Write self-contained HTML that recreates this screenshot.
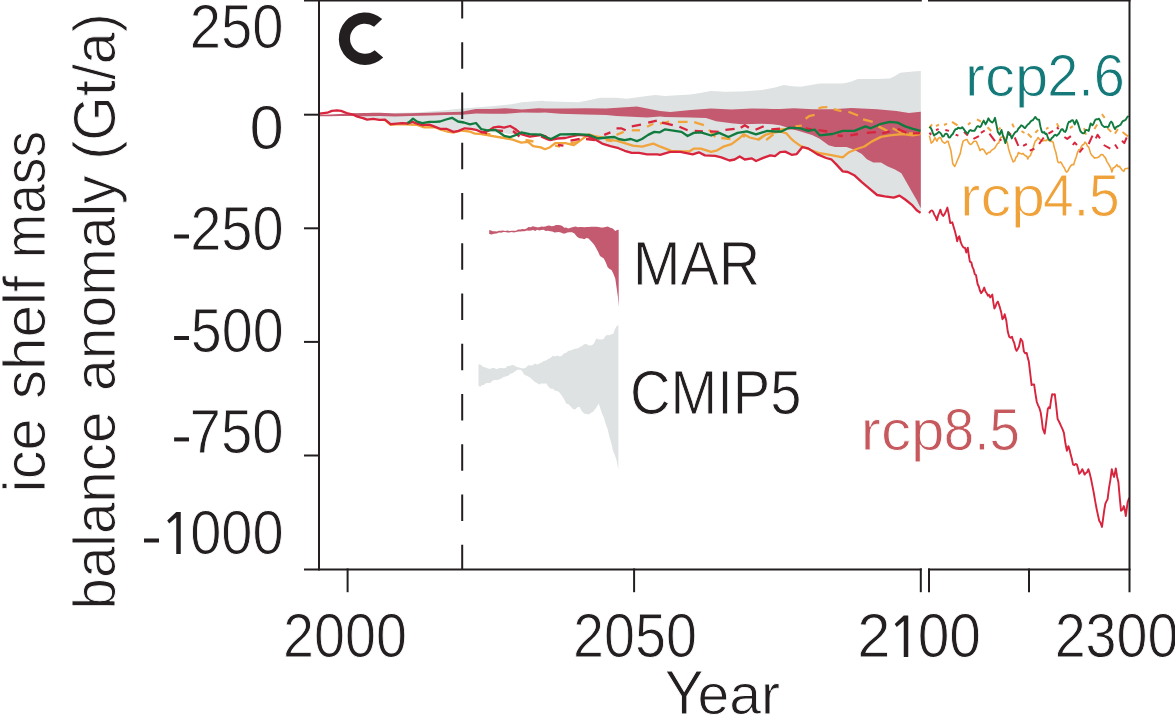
<!DOCTYPE html>
<html><head><meta charset="utf-8"><title>Ice shelf mass balance anomaly</title>
<style>
html,body{margin:0;padding:0;background:#fff;}
body{width:1175px;height:715px;overflow:hidden;}
svg{display:block;filter:blur(0.4px);}
text{font-family:"Liberation Sans",sans-serif;}
.ax{stroke:#231f20;stroke-width:2;fill:none;stroke-linecap:butt;}
.ln{fill:none;stroke-linejoin:round;stroke-linecap:butt;}
.t{fill:#231f20;}
</style></head><body>
<svg width="1175" height="715" viewBox="0 0 1175 715" role="img" aria-label="Ice shelf mass balance anomaly chart, panel C">
<rect width="1175" height="715" fill="#fff"/>
<polygon points="362.0,114.5 372.0,112.6 385.0,113.2 400.0,112.8 415.0,112.6 430.0,111.5 445.0,110.2 462.0,108.4 475.0,107.6 491.3,106.3 511.7,104.3 522.0,102.3 542.4,100.7 545.0,101.2 560.3,101.7 578.7,102.3 590.0,100.0 600.2,97.7 616.5,97.7 626.7,98.7 647.1,96.1 655.3,95.1 665.0,96.1 690.6,94.6 700.0,93.0 711.0,91.0 725.0,91.8 741.7,91.5 762.0,90.0 775.0,87.4 783.9,84.9 792.0,86.2 800.5,86.8 819.7,83.6 842.7,83.6 850.0,82.0 858.0,79.1 877.1,79.1 889.9,78.5 895.0,76.0 900.1,72.8 912.9,71.5 920.5,70.9 920.8,70.9 920.8,212.9 920.5,213.5 916.7,210.9 911.6,205.2 905.2,200.1 899.5,196.2 893.7,198.2 884.8,196.9 877.1,195.6 869.5,189.2 861.8,182.8 854.2,175.8 847.8,172.6 842.7,172.0 836.3,165.0 831.2,159.9 826.1,158.6 817.1,154.7 808.2,149.0 802.4,147.7 796.7,154.7 791.6,155.4 785.2,152.2 780.1,152.8 775.0,156.7 770.3,156.0 763.2,158.5 756.0,161.6 751.9,159.0 744.8,160.1 739.7,157.0 734.6,160.1 729.5,161.1 721.3,158.0 715.2,156.5 704.9,156.0 698.8,152.9 692.7,155.0 680.4,152.4 670.2,152.4 660.0,155.5 657.4,155.0 647.1,155.0 639.0,153.4 631.8,153.4 624.7,151.4 618.5,148.8 610.4,146.8 602.2,144.2 596.1,140.6 591.0,138.1 585.9,136.1 578.7,135.5 571.6,137.1 565.4,138.6 557.3,139.1 550.1,140.6 545.0,136.6 540.8,135.6 529.7,137.3 521.2,134.9 515.2,134.4 510.1,133.9 504.1,133.3 499.0,132.8 493.9,132.3 488.2,131.8 482.0,133.0 476.0,130.4 470.9,129.4 464.7,128.9 458.6,131.5 453.5,132.5 446.3,129.4 440.2,129.4 435.1,127.4 429.4,125.3 422.3,125.8 417.1,124.3 412.5,122.5 408.0,124.1 401.8,123.8 396.7,124.3 390.6,124.8 385.0,120.2 379.4,120.4 373.2,119.5 367.1,120.2 363.0,118.7" fill="#dee2e2"/>
<polygon points="319.6,114.7 330.0,114.6 340.0,113.9 350.0,113.2 365.0,113.1 380.0,112.8 395.0,113.5 410.0,113.2 430.0,112.7 445.0,112.2 462.0,111.7 468.0,110.6 476.0,108.9 491.3,108.9 505.6,108.2 521.9,109.4 538.3,108.2 545.0,108.4 565.0,108.4 585.9,108.2 606.0,108.4 621.6,107.4 636.9,106.5 647.1,108.4 660.0,110.9 670.2,112.0 690.6,109.9 711.0,108.4 731.5,109.4 752.0,108.4 772.4,108.9 780.0,108.9 794.1,108.3 813.3,109.2 832.4,109.2 851.6,107.9 877.1,109.2 896.3,111.1 909.0,113.0 920.5,111.7 920.8,111.7 920.8,207.8 920.5,207.8 916.7,200.1 911.6,191.2 906.5,182.2 901.4,173.3 895.0,169.5 887.3,166.3 881.0,162.4 873.3,162.4 866.9,159.3 861.8,154.1 854.2,149.7 846.5,147.1 835.0,147.1 828.6,145.2 819.7,138.8 812.0,135.0 800.5,131.5 787.8,127.7 780.0,125.2 772.4,124.2 762.0,123.7 741.7,124.2 731.5,123.2 716.2,121.2 706.0,118.1 690.6,117.4 665.0,117.1 660.0,116.4 647.1,117.4 631.8,116.8 616.5,116.0 606.3,115.0 585.9,114.5 560.3,113.7 545.0,112.5 538.3,112.7 521.9,112.5 505.6,113.8 491.3,113.7 476.0,113.5 462.0,114.8 445.0,115.0 430.0,115.5 410.0,116.0 395.0,116.5 380.0,116.0 365.0,116.2 350.0,116.0 340.0,116.0 330.0,116.2 319.6,116.2" fill="#c35a6f"/>
<polygon points="489.2,230.1 491.0,230.6 492.8,231.3 494.8,231.2 496.9,231.6 498.9,230.8 501.0,230.8 503.0,230.6 505.1,230.9 507.3,230.4 509.4,231.0 511.6,230.8 513.8,230.7 516.0,230.7 518.1,229.5 520.3,229.5 522.5,229.0 524.7,229.3 526.6,228.6 528.5,227.1 530.6,227.2 532.8,226.2 534.9,226.7 537.0,227.3 539.2,227.2 541.3,226.5 543.3,226.7 545.4,226.5 547.4,225.8 549.5,225.6 551.5,226.2 553.7,226.0 556.0,225.1 558.2,225.0 560.4,225.2 562.3,226.1 564.3,227.8 566.2,227.4 568.1,228.4 570.6,227.7 573.2,227.1 575.7,226.5 577.8,227.2 580.0,226.9 582.1,227.1 584.4,227.2 586.6,226.9 588.9,227.0 591.1,226.7 593.6,226.8 596.2,226.7 598.7,227.1 601.0,227.6 603.2,227.5 605.5,227.1 607.7,226.5 610.2,227.7 612.8,228.4 615.3,231.0 617.0,230.1 618.7,229.7 618.7,307.0 617.9,296.7 615.3,278.8 613.4,273.7 611.5,269.9 609.6,268.9 607.7,267.3 605.8,262.4 603.8,258.4 601.9,257.3 600.0,255.9 598.1,251.8 596.2,248.2 594.2,244.8 592.3,242.4 590.4,240.4 588.5,238.6 586.4,238.1 584.2,239.2 582.1,238.6 579.5,238.3 577.0,236.7 574.5,233.5 572.0,232.3 569.4,232.2 567.3,232.6 565.1,233.6 563.0,233.5 560.9,232.5 558.7,232.0 556.6,232.2 554.5,232.4 552.3,231.5 550.2,231.3 548.0,230.8 545.8,231.0 543.5,229.8 541.3,230.1 539.3,230.6 537.2,229.7 535.2,231.0 533.1,230.0 531.1,230.6 529.0,230.7 526.8,230.4 524.7,231.3 522.6,231.3 520.4,231.6 518.3,231.6 516.1,232.1 513.8,232.5 511.6,232.0 509.4,232.6 507.3,232.4 505.3,231.9 503.2,232.1 501.2,232.8 499.1,232.6 496.6,233.4 494.0,233.8 491.5,234.4 489.2,233.9" fill="#c35a6f"/>
<polygon points="478.5,364.2 480.9,364.8 483.3,366.9 485.7,367.6 487.9,368.4 490.2,369.1 492.4,367.8 494.7,368.2 496.9,369.2 499.1,368.1 501.4,367.9 503.6,368.3 505.6,368.1 507.5,365.9 509.4,366.1 511.4,365.3 513.3,365.1 515.1,365.9 517.0,366.9 519.2,367.4 521.5,368.3 523.7,368.5 526.0,367.4 528.2,365.3 530.5,365.4 532.7,365.3 534.9,363.6 537.1,364.4 539.4,363.4 541.6,362.5 543.8,360.9 546.0,360.4 548.3,358.9 550.5,358.1 552.8,355.7 555.0,356.6 557.3,355.6 559.5,356.4 561.8,355.8 564.0,353.6 566.2,352.8 568.5,350.8 570.7,350.4 573.0,349.5 575.2,348.8 577.4,348.6 579.6,347.3 581.9,345.9 584.1,344.3 586.4,344.1 588.3,345.2 590.1,345.5 592.0,345.2 594.2,343.0 596.4,338.5 598.3,339.3 600.1,339.4 602.0,339.6 603.9,338.7 605.7,335.7 607.6,335.1 609.5,335.2 611.3,334.2 613.2,334.0 614.9,329.3 616.6,326.2 618.4,325.1 618.4,469.4 616.6,460.4 614.9,455.0 613.2,451.5 611.3,443.3 609.5,436.9 607.6,429.1 605.7,424.1 603.9,417.8 602.0,413.5 598.7,403.4 597.0,406.6 595.3,409.0 593.1,411.8 590.8,413.0 588.6,414.6 586.4,413.9 584.1,413.5 581.9,411.3 579.6,406.7 577.4,407.2 575.1,409.4 572.9,409.0 570.7,406.4 568.4,404.3 566.2,403.4 564.0,399.1 561.7,395.6 559.5,392.4 557.3,391.1 555.1,390.7 552.8,388.8 550.6,388.8 548.4,386.4 546.1,383.2 543.9,383.7 541.6,383.2 539.4,384.4 537.2,383.2 534.9,382.1 532.7,379.9 530.4,377.8 528.2,376.6 525.9,375.4 524.0,374.5 522.2,371.0 520.3,369.8 517.5,369.7 514.8,371.4 512.5,373.3 510.3,373.7 508.1,375.7 505.8,376.5 503.6,376.9 501.4,378.6 499.1,379.6 496.9,379.9 494.7,380.0 492.4,380.7 490.2,382.9 487.9,382.9 485.7,383.2 483.8,385.0 482.0,384.9 480.1,387.1 478.5,385.5" fill="#dee2e2"/>
<path class="ax" d="M462.2 -8 V569.4" stroke-dasharray="26.5 23.75"/>
<path class="ln" d="M385.0 120.2 L390.6 124.8 L400.0 124.2 L410.0 124.5 L417.0 124.8 L424.3 127.3 L435.0 127.0 L440.0 129.5 L447.0 131.5 L454.0 132.5 L462.0 130.5 L470.0 131.6 L475.1 133.7 L482.0 134.1 L491.3 135.8 L504.1 138.0 L512.7 139.7 L521.2 142.7 L528.0 141.8 L533.1 146.1 L540.8 147.4 L545.0 149.2 L550.1 147.2 L555.2 143.1 L565.4 143.1 L573.6 145.2 L580.8 140.1 L588.9 134.4 L596.1 136.5 L602.2 137.5 L610.4 140.1 L616.5 140.6 L624.7 143.1 L632.8 145.7 L642.0 146.7 L653.3 143.6 L660.4 146.7 L671.2 150.8 L680.0 151.5 L689.6 151.3 L693.7 148.7 L700.9 148.7 L711.1 151.8 L717.2 150.3 L723.3 146.7 L731.5 144.1 L739.7 138.0 L743.8 134.4 L749.9 137.5 L758.1 139.5 L765.2 134.9 L772.4 132.9 L780.0 131.5 L786.5 133.4 L791.6 139.2 L794.1 141.4 L800.5 145.9 L808.2 149.0 L818.4 152.9 L829.9 154.8 L842.7 157.3 L849.0 152.2 L856.7 149.0 L864.4 146.5 L872.0 141.4 L881.0 136.9 L889.9 135.3 L902.7 134.0 L912.9 135.3 L920.5 134.0" stroke="#f1a33c" stroke-width="2.3"/>
<path class="ln" d="M482.0 134.0 L490.5 134.2" stroke="#f1a33c" stroke-width="2.3"/>
<path class="ln" d="M525.5 140.0 L533.5 141.5" stroke="#f1a33c" stroke-width="2.3"/>
<path class="ln" d="M555.0 145.7 L560.0 146.5" stroke="#f1a33c" stroke-width="2.3"/>
<path class="ln" d="M570.5 143.1 L577.7 142.1" stroke="#f1a33c" stroke-width="2.3"/>
<path class="ln" d="M606.0 140.0 L612.0 141.0" stroke="#f1a33c" stroke-width="2.3"/>
<path class="ln" d="M616.5 134.9 L623.7 131.9" stroke="#f1a33c" stroke-width="2.3"/>
<path class="ln" d="M631.8 130.3 L640.0 130.3" stroke="#f1a33c" stroke-width="2.3"/>
<path class="ln" d="M647.1 126.8 L653.3 123.7" stroke="#f1a33c" stroke-width="2.3"/>
<path class="ln" d="M660.0 123.7 L669.2 121.7" stroke="#f1a33c" stroke-width="2.3"/>
<path class="ln" d="M677.9 121.9 L687.6 121.9" stroke="#f1a33c" stroke-width="2.3"/>
<path class="ln" d="M694.2 122.2 L703.9 125.2" stroke="#f1a33c" stroke-width="2.3"/>
<path class="ln" d="M709.0 129.8 L715.2 137.0" stroke="#f1a33c" stroke-width="2.3"/>
<path class="ln" d="M721.3 138.0 L730.5 139.0" stroke="#f1a33c" stroke-width="2.3"/>
<path class="ln" d="M741.7 135.0 L744.8 137.0" stroke="#f1a33c" stroke-width="2.3"/>
<path class="ln" d="M758.1 140.0 L766.2 134.4" stroke="#f1a33c" stroke-width="2.3"/>
<path class="ln" d="M766.2 140.0 L773.4 134.4" stroke="#f1a33c" stroke-width="2.3"/>
<path class="ln" d="M777.0 129.8 L786.5 128.9" stroke="#f1a33c" stroke-width="2.3"/>
<path class="ln" d="M795.4 126.4 L801.8 125.7" stroke="#f1a33c" stroke-width="2.3"/>
<path class="ln" d="M805.6 118.7 L809.0 116.2 L814.6 114.9" stroke="#f1a33c" stroke-width="2.3"/>
<path class="ln" d="M818.4 108.5 L822.0 107.3 L827.3 107.2" stroke="#f1a33c" stroke-width="2.3"/>
<path class="ln" d="M833.7 109.2 L841.4 111.1" stroke="#f1a33c" stroke-width="2.3"/>
<path class="ln" d="M848.4 111.7 L858.0 115.5" stroke="#f1a33c" stroke-width="2.3"/>
<path class="ln" d="M863.1 119.4 L872.7 121.9" stroke="#f1a33c" stroke-width="2.3"/>
<path class="ln" d="M878.4 126.4 L887.3 130.9" stroke="#f1a33c" stroke-width="2.3"/>
<path class="ln" d="M892.5 128.3 L901.4 132.8" stroke="#f1a33c" stroke-width="2.3"/>
<path class="ln" d="M909.0 133.4 L920.5 133.4" stroke="#f1a33c" stroke-width="2.3"/>
<path class="ln" d="M319.6 113.7 L327.3 112.7 L331.9 110.9 L337.0 110.4 L341.0 110.9 L346.7 113.0 L352.8 114.5 L357.4 116.6 L363.0 118.1 L367.1 119.6 L373.2 118.9 L379.4 119.8 L385.0 119.6 L390.6 124.2 L396.7 123.7 L401.8 123.2 L408.0 123.5 L412.5 121.9 L417.1 123.7 L422.3 125.2 L429.4 124.7 L435.1 126.8 L440.2 128.8 L446.3 128.8 L453.5 131.9 L458.6 130.9 L464.7 128.3 L470.9 128.8 L476.0 129.8 L482.0 132.4 L488.2 130.9 L493.9 127.3 L499.0 126.6 L504.1 127.7 L510.1 126.0 L515.2 129.0 L521.2 134.1 L529.7 136.7 L540.8 135.0 L545.0 136.0 L550.1 140.0 L557.3 138.5 L565.4 138.0 L571.6 136.5 L578.7 134.9 L585.9 135.5 L591.0 137.5 L596.1 140.0 L602.2 143.6 L610.4 146.2 L618.5 148.2 L624.7 150.8 L631.8 152.8 L639.0 152.8 L647.1 154.4 L657.4 154.4 L660.0 154.9 L670.2 151.8 L680.4 151.8 L692.7 154.4 L698.8 152.3 L704.9 155.4 L715.2 155.9 L721.3 157.4 L729.5 160.5 L734.6 159.5 L739.7 156.4 L744.8 159.5 L751.9 158.4 L756.0 161.0 L763.2 157.9 L770.3 155.4 L775.0 156.1 L780.1 152.2 L785.2 151.6 L791.6 154.8 L796.7 154.1 L802.4 147.1 L808.2 148.4 L817.1 154.1 L826.1 158.0 L831.2 159.3 L836.3 164.4 L842.7 171.4 L847.8 172.0 L854.2 175.2 L861.8 182.2 L869.5 188.6 L877.1 195.0 L884.8 196.3 L893.7 197.6 L899.5 195.6 L905.2 199.5 L911.6 204.6 L916.7 210.3 L920.5 212.9" stroke="#d8243c" stroke-width="2.3"/>
<path class="ln" d="M481.0 131.5 L487.0 133.5" stroke="#d8243c" stroke-width="2.3"/>
<path class="ln" d="M496.0 130.5 L503.0 131.0" stroke="#d8243c" stroke-width="2.3"/>
<path class="ln" d="M513.0 131.0 L519.5 136.5" stroke="#d8243c" stroke-width="2.3"/>
<path class="ln" d="M541.0 136.5 L549.0 140.0" stroke="#d8243c" stroke-width="2.3"/>
<path class="ln" d="M558.0 145.0 L563.4 145.7" stroke="#d8243c" stroke-width="2.3"/>
<path class="ln" d="M570.5 140.6 L579.7 139.0" stroke="#d8243c" stroke-width="2.3"/>
<path class="ln" d="M586.0 139.0 L595.0 140.0" stroke="#d8243c" stroke-width="2.3"/>
<path class="ln" d="M604.2 134.9 L610.4 132.4" stroke="#d8243c" stroke-width="2.3"/>
<path class="ln" d="M616.5 128.3 L621.0 128.3 L625.7 130.3" stroke="#d8243c" stroke-width="2.3"/>
<path class="ln" d="M631.8 126.3 L641.0 124.7" stroke="#d8243c" stroke-width="2.3"/>
<path class="ln" d="M648.2 122.7 L656.8 120.6" stroke="#d8243c" stroke-width="2.3"/>
<path class="ln" d="M662.0 122.7 L672.8 125.2" stroke="#d8243c" stroke-width="2.3"/>
<path class="ln" d="M679.4 126.8 L687.6 130.3" stroke="#d8243c" stroke-width="2.3"/>
<path class="ln" d="M694.7 130.9 L702.9 131.4" stroke="#d8243c" stroke-width="2.3"/>
<path class="ln" d="M710.0 131.4 L718.7 131.9" stroke="#d8243c" stroke-width="2.3"/>
<path class="ln" d="M725.4 129.8 L734.6 128.8" stroke="#d8243c" stroke-width="2.3"/>
<path class="ln" d="M740.7 127.8 L744.8 125.2 L748.9 127.8" stroke="#d8243c" stroke-width="2.3"/>
<path class="ln" d="M755.5 129.8 L763.7 126.3" stroke="#d8243c" stroke-width="2.3"/>
<path class="ln" d="M771.3 129.3 L780.0 128.6" stroke="#d8243c" stroke-width="2.3"/>
<path class="ln" d="M788.0 128.3 L796.0 128.0" stroke="#d8243c" stroke-width="2.3"/>
<path class="ln" d="M805.6 128.3 L812.0 129.6" stroke="#d8243c" stroke-width="2.3"/>
<path class="ln" d="M818.4 130.2 L827.3 131.5" stroke="#d8243c" stroke-width="2.3"/>
<path class="ln" d="M837.6 135.3 L842.7 136.0" stroke="#d8243c" stroke-width="2.3"/>
<path class="ln" d="M850.3 135.3 L858.0 134.0" stroke="#d8243c" stroke-width="2.3"/>
<path class="ln" d="M866.9 132.8 L875.9 132.1" stroke="#d8243c" stroke-width="2.3"/>
<path class="ln" d="M882.2 133.4 L889.9 131.5" stroke="#d8243c" stroke-width="2.3"/>
<path class="ln" d="M897.6 128.9 L906.5 132.8" stroke="#d8243c" stroke-width="2.3"/>
<path class="ln" d="M912.9 133.4 L920.0 133.2" stroke="#d8243c" stroke-width="2.3"/>
<path class="ln" d="M407.5 123.0 L410.0 121.4 L413.0 118.6 L417.1 121.7 L422.3 123.2 L429.4 121.9 L435.0 121.9 L440.0 121.5 L446.0 119.5 L452.0 117.8 L458.0 121.5 L464.0 122.5 L470.0 124.3 L476.0 123.0 L481.1 129.0 L487.1 130.3 L495.6 129.9 L504.1 135.8 L510.1 137.1 L516.1 135.0 L521.2 132.4 L529.7 134.1 L540.8 134.6 L546.8 137.5 L551.1 139.0 L560.3 134.4 L575.6 134.1 L588.9 134.9 L598.1 138.5 L606.3 137.5 L614.5 137.0 L618.5 139.0 L624.7 140.1 L630.8 139.0 L636.9 141.1 L642.0 139.0 L648.2 134.9 L654.3 131.9 L659.4 132.4 L665.1 129.3 L681.5 131.9 L687.6 136.0 L693.7 132.9 L700.9 132.4 L711.1 135.5 L719.2 132.9 L728.4 137.0 L737.6 132.9 L746.8 131.4 L756.0 134.4 L767.3 130.9 L775.0 131.5 L781.4 131.5 L789.0 127.7 L800.5 128.3 L808.2 130.9 L814.6 129.6 L819.7 135.3 L832.4 134.0 L842.7 130.9 L854.2 130.9 L865.6 126.4 L870.7 128.3 L881.0 123.8 L889.9 121.9 L897.6 122.6 L905.2 126.4 L912.9 128.9 L920.5 130.9" stroke="#117a3e" stroke-width="2.3"/>
<path class="ln" d="M929.4 135.6 L931.2 143.1 L932.5 142.2 L933.7 140.4 L935.0 137.5 L936.9 141.2 L938.3 138.4 L939.7 137.5 L940.9 138.0 L942.0 141.0 L943.2 142.2 L944.4 143.1 L945.6 142.8 L946.9 141.4 L948.1 141.2 L949.5 146.1 L950.9 150.6 L952.8 163.7 L954.7 166.5 L956.1 163.5 L957.5 160.0 L958.9 156.9 L960.3 153.4 L961.7 146.5 L963.1 141.2 L964.4 140.4 L965.6 139.8 L966.9 139.4 L968.3 142.2 L969.7 144.0 L970.9 144.4 L972.0 143.6 L973.2 142.0 L974.4 141.2 L976.2 141.2 L977.5 144.2 L978.7 147.0 L980.0 150.6 L981.2 149.3 L982.5 149.0 L983.7 149.7 L985.1 152.0 L986.5 154.4 L987.7 153.1 L988.9 152.2 L990.0 152.4 L991.2 150.6 L992.5 149.7 L993.7 148.9 L995.0 147.8 L996.2 145.7 L997.5 143.6 L998.7 143.1 L1000.6 137.5 L1001.8 137.1 L1003.1 136.7 L1004.3 137.5 L1005.8 139.9 L1007.2 142.2 L1008.6 148.9 L1010.0 153.4 L1011.6 158.0 L1013.2 161.9 L1014.7 160.9 L1015.9 157.4 L1017.2 156.2 L1018.4 152.5 L1019.6 153.4 L1020.8 153.5 L1021.9 154.1 L1023.1 153.4 L1024.3 154.9 L1025.6 155.9 L1026.8 156.2 L1027.8 159.0 L1029.1 156.5 L1030.3 155.7 L1031.6 152.5 L1032.8 149.7 L1034.1 144.2 L1035.3 141.2 L1036.7 139.9 L1038.1 137.5 L1039.4 139.2 L1040.6 139.9 L1041.9 141.2 L1043.3 140.8 L1044.7 140.3 L1046.1 140.8 L1047.5 139.4 L1048.9 140.1 L1050.3 141.5 L1051.7 141.2 L1053.1 142.2 L1054.5 148.2 L1055.9 152.5 L1057.8 161.9 L1059.2 162.8 L1060.6 161.9 L1061.9 163.8 L1063.1 166.1 L1064.4 168.0 L1065.6 171.0 L1066.8 172.1 L1068.2 170.4 L1069.5 167.7 L1070.9 165.6 L1072.3 164.5 L1073.7 164.7 L1075.0 160.2 L1076.2 157.0 L1077.5 152.5 L1078.7 149.9 L1080.0 149.7 L1081.2 146.9 L1082.5 144.8 L1083.7 144.7 L1085.0 142.2 L1086.2 143.3 L1087.5 146.3 L1088.7 146.9 L1090.6 153.4 L1091.9 155.4 L1093.1 156.5 L1094.4 158.1 L1095.6 157.8 L1096.9 157.8 L1098.1 157.2 L1099.4 156.5 L1100.6 154.9 L1101.9 154.4 L1103.1 155.0 L1104.4 156.9 L1105.6 158.1 L1106.9 161.6 L1108.1 163.4 L1109.4 165.6 L1110.7 167.9 L1111.9 172.1 L1113.1 168.0 L1114.4 167.6 L1115.6 166.3 L1116.9 164.7 L1118.1 166.7 L1119.4 166.2 L1120.6 168.0 L1122.2 170.2 L1123.8 171.3 L1124.9 168.9 L1126.0 168.5 L1127.3 168.5 L1128.6 167.9" stroke="#f1a33c" stroke-width="1.6"/>
<path class="ln" d="M929.4 128.0 L932.0 124.4" stroke="#f1a33c" stroke-width="2"/>
<path class="ln" d="M936.0 126.0 L939.0 124.6" stroke="#f1a33c" stroke-width="2"/>
<path class="ln" d="M944.0 125.0 L947.0 123.6" stroke="#f1a33c" stroke-width="2"/>
<path class="ln" d="M952.0 121.8 L957.5 125.3" stroke="#f1a33c" stroke-width="2"/>
<path class="ln" d="M968.0 124.8 L970.5 122.6" stroke="#f1a33c" stroke-width="2"/>
<path class="ln" d="M977.0 119.4 L981.0 121.6" stroke="#f1a33c" stroke-width="2"/>
<path class="ln" d="M987.5 127.2 L991.2 131.0" stroke="#f1a33c" stroke-width="2"/>
<path class="ln" d="M998.5 129.5 L1000.5 127.5" stroke="#f1a33c" stroke-width="2"/>
<path class="ln" d="M1012.2 123.6 L1013.9 127.4" stroke="#f1a33c" stroke-width="2"/>
<path class="ln" d="M1021.5 131.2 L1024.5 133.0" stroke="#f1a33c" stroke-width="2"/>
<path class="ln" d="M1027.8 133.7 L1031.6 137.5" stroke="#f1a33c" stroke-width="2"/>
<path class="ln" d="M1035.3 132.8 L1038.1 130.0" stroke="#f1a33c" stroke-width="2"/>
<path class="ln" d="M1046.0 128.8 L1048.5 127.6" stroke="#f1a33c" stroke-width="2"/>
<path class="ln" d="M1056.9 123.4 L1058.7 127.2" stroke="#f1a33c" stroke-width="2"/>
<path class="ln" d="M1070.0 128.1 L1072.8 126.2" stroke="#f1a33c" stroke-width="2"/>
<path class="ln" d="M1084.0 128.1 L1085.9 134.7" stroke="#f1a33c" stroke-width="2"/>
<path class="ln" d="M1094.4 129.1 L1097.2 124.4" stroke="#f1a33c" stroke-width="2"/>
<path class="ln" d="M1101.9 114.1 L1104.7 117.8" stroke="#f1a33c" stroke-width="2"/>
<path class="ln" d="M1107.5 128.1 L1111.2 131.9" stroke="#f1a33c" stroke-width="2"/>
<path class="ln" d="M1115.0 133.7 L1117.8 129.1" stroke="#f1a33c" stroke-width="2"/>
<path class="ln" d="M1122.5 131.9 L1128.1 136.6" stroke="#f1a33c" stroke-width="2"/>
<path class="ln" d="M929.4 132.8 L931.2 134.7" stroke="#d8243c" stroke-width="2"/>
<path class="ln" d="M936.0 130.0 L938.7 129.1" stroke="#d8243c" stroke-width="2"/>
<path class="ln" d="M945.3 130.0 L949.0 130.9" stroke="#d8243c" stroke-width="2"/>
<path class="ln" d="M955.6 134.7 L958.4 135.6" stroke="#d8243c" stroke-width="2"/>
<path class="ln" d="M964.0 131.9 L967.8 135.6" stroke="#d8243c" stroke-width="2"/>
<path class="ln" d="M973.4 138.9 L979.0 136.1" stroke="#d8243c" stroke-width="2"/>
<path class="ln" d="M980.9 132.8 L984.7 130.5" stroke="#d8243c" stroke-width="2"/>
<path class="ln" d="M989.4 133.7 L995.0 141.2" stroke="#d8243c" stroke-width="2"/>
<path class="ln" d="M999.7 140.3 L1001.5 139.4" stroke="#d8243c" stroke-width="2"/>
<path class="ln" d="M1008.1 131.9 L1010.9 134.7" stroke="#d8243c" stroke-width="2"/>
<path class="ln" d="M1014.7 137.5 L1018.4 145.9" stroke="#d8243c" stroke-width="2"/>
<path class="ln" d="M1023.1 145.9 L1026.8 144.0" stroke="#d8243c" stroke-width="2"/>
<path class="ln" d="M1029.7 150.6 L1034.4 148.7" stroke="#d8243c" stroke-width="2"/>
<path class="ln" d="M1039.1 144.0 L1043.7 137.5" stroke="#d8243c" stroke-width="2"/>
<path class="ln" d="M1048.4 133.7 L1053.1 130.9" stroke="#d8243c" stroke-width="2"/>
<path class="ln" d="M1056.9 127.2 L1058.7 129.1" stroke="#d8243c" stroke-width="2"/>
<path class="ln" d="M1064.4 137.0 L1067.2 138.9 L1070.9 136.1" stroke="#d8243c" stroke-width="2"/>
<path class="ln" d="M1072.8 145.0 L1074.7 142.6 L1077.0 145.0" stroke="#d8243c" stroke-width="2"/>
<path class="ln" d="M1079.4 152.5 L1083.1 147.8" stroke="#d8243c" stroke-width="2"/>
<path class="ln" d="M1088.7 144.0 L1092.5 135.6" stroke="#d8243c" stroke-width="2"/>
<path class="ln" d="M1095.8 138.4 L1097.6 134.7 L1100.0 138.4" stroke="#d8243c" stroke-width="2"/>
<path class="ln" d="M1103.7 145.0 L1110.3 148.7" stroke="#d8243c" stroke-width="2"/>
<path class="ln" d="M1115.0 144.5 L1117.8 148.7" stroke="#d8243c" stroke-width="2"/>
<path class="ln" d="M1122.0 140.8 L1124.3 143.1 L1126.7 137.5" stroke="#d8243c" stroke-width="2"/>
<path class="ln" d="M929.4 128.1 L930.3 127.2 L931.6 129.4 L932.8 132.9 L934.1 135.6 L935.2 134.4 L936.4 134.0 L937.6 133.1 L938.7 131.9 L940.0 132.5 L941.2 134.0 L942.5 136.6 L943.7 136.4 L945.0 134.1 L946.2 133.7 L947.5 134.4 L948.7 137.3 L950.0 137.5 L951.4 135.3 L952.8 134.0 L954.2 131.1 L955.6 129.1 L956.9 129.0 L958.2 127.6 L959.6 128.3 L960.9 128.4 L962.2 127.2 L963.6 128.9 L965.0 131.0 L966.4 132.5 L967.8 133.7 L969.2 130.9 L970.6 130.0 L971.9 130.9 L973.1 130.8 L974.4 130.9 L975.6 128.9 L976.9 126.7 L978.1 126.2 L980.0 127.2 L981.2 125.8 L982.5 122.7 L983.7 120.6 L985.6 124.4 L987.0 121.8 L988.4 118.3 L989.7 120.5 L990.9 121.6 L992.2 122.5 L993.6 121.1 L995.0 117.8 L996.4 124.6 L997.8 131.9 L999.7 134.7 L1001.5 130.0 L1002.8 135.0 L1004.0 138.6 L1005.3 143.1 L1006.7 138.5 L1008.1 131.9 L1009.3 134.9 L1010.6 135.3 L1011.8 138.4 L1013.1 135.4 L1014.3 133.4 L1015.6 131.9 L1017.0 131.3 L1018.4 128.5 L1019.8 127.2 L1021.2 125.3 L1022.5 125.8 L1023.7 127.2 L1025.0 128.1 L1026.4 126.2 L1027.8 124.5 L1029.2 123.4 L1030.6 121.6 L1031.8 120.6 L1032.9 120.1 L1034.1 118.5 L1035.3 116.9 L1036.6 118.8 L1037.8 119.6 L1039.1 119.7 L1040.5 126.9 L1041.9 131.9 L1043.1 132.7 L1044.2 132.1 L1045.4 134.0 L1046.6 133.7 L1048.0 138.0 L1049.4 140.3 L1050.6 140.0 L1051.8 138.1 L1052.9 137.2 L1054.1 135.6 L1055.3 134.7 L1056.6 135.7 L1057.8 134.7 L1059.0 133.5 L1060.2 131.4 L1061.3 129.5 L1062.5 129.1 L1063.9 131.3 L1065.3 131.9 L1066.5 129.5 L1067.8 124.1 L1069.0 121.6 L1070.3 121.8 L1071.5 120.4 L1072.8 120.1 L1074.7 124.4 L1076.5 120.1 L1077.8 122.9 L1079.0 126.8 L1080.3 130.9 L1081.7 132.7 L1083.1 133.3 L1084.4 133.0 L1085.6 130.1 L1086.9 130.0 L1088.7 130.9 L1090.6 123.4 L1092.5 125.3 L1093.7 123.5 L1095.0 120.2 L1096.2 119.2 L1097.6 119.4 L1099.0 118.7 L1100.5 121.4 L1101.9 124.8 L1103.3 126.2 L1104.7 127.1 L1106.1 126.6 L1107.5 127.2 L1108.7 126.4 L1110.0 123.0 L1111.2 121.6 L1112.5 123.2 L1113.7 126.8 L1115.0 129.1 L1116.2 127.1 L1117.3 126.5 L1118.5 126.0 L1119.7 125.3 L1120.8 124.4 L1122.0 122.2 L1123.2 120.8 L1124.3 120.6 L1125.7 119.8 L1127.2 117.1 L1128.6 115.9" stroke="#117a3e" stroke-width="1.9"/>
<path class="ln" d="M929.1 213.2 L930.5 211.0 L931.9 210.4 L933.1 211.7 L934.4 215.0 L935.6 216.7 L936.9 220.2 L938.1 215.4 L939.2 212.9 L940.4 209.7 L941.8 214.1 L943.2 216.0 L944.6 214.1 L946.0 211.2 L947.4 207.6 L948.8 214.5 L950.2 223.0 L951.2 222.8 L952.3 222.3 L953.5 226.4 L954.8 230.8 L956.0 235.4 L957.2 241.3 L958.2 237.9 L959.3 236.3 L960.7 242.2 L962.1 245.5 L963.5 247.5 L964.9 247.6 L966.3 252.5 L967.8 247.6 L968.8 255.5 L969.9 261.6 L971.3 262.3 L972.5 267.2 L973.6 269.4 L974.8 274.3 L976.0 275.0 L977.6 284.0 L978.8 286.5 L979.9 290.5 L981.1 293.2 L982.7 291.1 L984.2 287.6 L985.5 291.5 L986.7 293.2 L987.9 295.7 L989.0 294.8 L990.2 297.4 L991.2 296.3 L992.3 294.6 L993.3 302.1 L994.4 308.6 L995.6 306.3 L996.7 303.0 L997.9 301.6 L999.0 304.7 L1000.0 307.9 L1001.2 312.3 L1002.4 319.2 L1003.5 318.0 L1004.7 314.2 L1006.3 320.6 L1007.8 331.8 L1009.2 336.7 L1010.6 337.8 L1012.0 336.7 L1013.1 340.4 L1014.3 343.2 L1015.5 348.5 L1016.6 350.8 L1017.8 348.9 L1019.0 346.5 L1020.7 338.8 L1022.5 341.6 L1023.9 351.5 L1025.3 353.3 L1026.7 352.9 L1027.8 358.1 L1028.8 361.3 L1030.2 373.2 L1031.6 385.1 L1032.8 384.5 L1034.1 384.4 L1035.4 393.5 L1036.8 402.0 L1038.1 405.3 L1039.4 408.0 L1040.7 412.5 L1041.8 420.0 L1042.8 428.7 L1044.7 433.6 L1046.2 422.2 L1047.8 409.0 L1048.8 407.3 L1049.9 408.3 L1051.1 399.9 L1052.2 394.2 L1053.5 394.6 L1054.8 394.2 L1056.2 405.8 L1057.6 418.8 L1058.7 421.0 L1059.7 423.0 L1061.1 426.2 L1062.5 429.1 L1063.9 432.9 L1065.4 443.3 L1066.9 450.8 L1068.4 446.1 L1069.6 449.8 L1070.8 455.1 L1071.9 459.1 L1073.1 464.6 L1074.4 465.0 L1075.6 463.9 L1076.9 464.6 L1078.1 468.8 L1079.2 473.8 L1080.8 472.2 L1082.3 469.2 L1083.4 471.4 L1084.6 474.6 L1085.9 473.0 L1087.1 472.2 L1088.4 469.2 L1089.7 473.4 L1091.0 478.7 L1092.3 485.4 L1093.8 493.0 L1095.4 502.3 L1096.7 509.2 L1097.9 514.9 L1099.2 520.7 L1100.6 523.0 L1102.0 526.9 L1103.1 518.7 L1104.2 510.5 L1105.3 503.8 L1106.4 501.4 L1107.6 499.2 L1109.0 487.8 L1110.4 479.8 L1111.8 469.2 L1112.9 474.2 L1114.1 476.9 L1115.8 468.4 L1117.1 476.7 L1118.4 482.3 L1119.7 497.2 L1121.0 510.7 L1122.4 509.8 L1123.8 506.1 L1124.8 509.7 L1125.8 516.1 L1127.6 502.3 L1129.2 497.7" stroke="#d8243c" stroke-width="1.9"/>
<path class="ax" d="M304 0.6 H921.8 M928 0.6 H1130.5" stroke-width="2.8"/>
<path class="ax" d="M319 0 V570.4"/>
<path class="ax" d="M1129.5 0 V592.2"/>
<path class="ax" d="M304 569.4 H921.8 M928 569.4 H1130.5"/>
<path class="ax" d="M304 114.7 H319"/>
<path class="ax" d="M304 228.3 H319"/>
<path class="ax" d="M304 341.9 H319"/>
<path class="ax" d="M304 455.5 H319"/>
<path class="ax" d="M347.6 568.4 V592.2"/>
<path class="ax" d="M634.1 568.4 V592.2"/>
<path class="ax" d="M920.8 568.4 V592.2"/>
<path class="ax" d="M929 568.4 V592.2"/>
<path class="ax" d="M1029 568.4 V592.2"/>
<text x="189.84" y="48.00" font-size="62.1" fill="#231f20" stroke="#fff" stroke-width="0.9" textLength="93.77" lengthAdjust="spacingAndGlyphs">250</text>
<text x="249.48" y="149.40" font-size="62.1" fill="#231f20" stroke="#fff" stroke-width="0.9" textLength="34.36" lengthAdjust="spacingAndGlyphs">0</text>
<rect x="174.1" y="234.5" width="14.9" height="4.0" fill="#231f20"/>
<text x="190.25" y="250.20" font-size="62.1" fill="#231f20" stroke="#fff" stroke-width="0.9" textLength="93.35" lengthAdjust="spacingAndGlyphs">250</text>
<rect x="174.1" y="336.0" width="14.9" height="4.0" fill="#231f20"/>
<text x="190.83" y="351.70" font-size="62.1" fill="#231f20" stroke="#fff" stroke-width="0.9" textLength="92.77" lengthAdjust="spacingAndGlyphs">500</text>
<rect x="174.1" y="437.4" width="14.9" height="4.0" fill="#231f20"/>
<text x="189.59" y="453.10" font-size="62.1" fill="#231f20" stroke="#fff" stroke-width="0.9" textLength="94.03" lengthAdjust="spacingAndGlyphs">750</text>
<rect x="144.0" y="538.5" width="15.0" height="4.0" fill="#231f20"/>
<path d="M176.25 512.10 H180.75 V553.90 H176.25 V517.40 L169.20 523.50 L167.20 520.40 Z" fill="#231f20"/>
<text x="190.21" y="554.20" font-size="62.1" fill="#231f20" stroke="#fff" stroke-width="0.9" textLength="93.39" lengthAdjust="spacingAndGlyphs">000</text>
<text x="283.07" y="657.40" font-size="62.1" fill="#231f20" stroke="#fff" stroke-width="0.9" textLength="123.79" lengthAdjust="spacingAndGlyphs">2000</text>
<text x="573.07" y="657.40" font-size="62.1" fill="#231f20" stroke="#fff" stroke-width="0.9" textLength="123.79" lengthAdjust="spacingAndGlyphs">2050</text>
<text x="857.26" y="657.40" font-size="62.1" fill="#231f20" stroke="#fff" stroke-width="0.9" textLength="33.25" lengthAdjust="spacingAndGlyphs">2</text>
<path d="M903.75 615.60 H908.25 V657.10 H903.75 V620.90 L896.70 627.00 L894.70 623.90 Z" fill="#231f20"/>
<text x="917.67" y="657.40" font-size="62.1" fill="#231f20" stroke="#fff" stroke-width="0.9" textLength="63.35" lengthAdjust="spacingAndGlyphs">00</text>
<text x="1054.67" y="657.40" font-size="62.1" fill="#231f20" stroke="#fff" stroke-width="0.9" textLength="123.79" lengthAdjust="spacingAndGlyphs">2300</text>
<text x="664.84" y="714.10" font-size="62.1" fill="#231f20" stroke="#fff" stroke-width="0.9" textLength="38.89" lengthAdjust="spacingAndGlyphs">Y</text>
<text x="697.42" y="714.10" font-size="56.5" fill="#231f20" stroke="#fff" stroke-width="0.9" textLength="82.61" lengthAdjust="spacingAndGlyphs">ear</text>
<text x="632.72" y="284.90" font-size="62.1" fill="#231f20" stroke="#fff" stroke-width="0.9" textLength="127.44" lengthAdjust="spacingAndGlyphs">MAR</text>
<text x="630.05" y="413.70" font-size="62.1" fill="#231f20" stroke="#fff" stroke-width="0.9" textLength="171.42" lengthAdjust="spacingAndGlyphs">CMIP5</text>
<text x="965.11" y="96.40" font-size="56.5" fill="#15797a" stroke="#fff" stroke-width="0.9" textLength="83.13" lengthAdjust="spacingAndGlyphs">rcp</text>
<text x="1047.16" y="96.40" font-size="59.9" fill="#15797a" stroke="#fff" stroke-width="0.9" textLength="77.57" lengthAdjust="spacingAndGlyphs">2.6</text>
<text x="960.12" y="215.70" font-size="56.5" fill="#f0a23a" stroke="#fff" stroke-width="0.9" textLength="84.98" lengthAdjust="spacingAndGlyphs">rcp</text>
<text x="1043.01" y="215.70" font-size="59.9" fill="#f0a23a" stroke="#fff" stroke-width="0.9" textLength="76.66" lengthAdjust="spacingAndGlyphs">4.5</text>
<text x="860.89" y="450.30" font-size="56.5" fill="#c5595d" stroke="#fff" stroke-width="0.9" textLength="83.57" lengthAdjust="spacingAndGlyphs">rcp</text>
<text x="943.83" y="450.30" font-size="59.9" fill="#c5595d" stroke="#fff" stroke-width="0.9" textLength="76.02" lengthAdjust="spacingAndGlyphs">8.5</text>
<text transform="translate(45.10 487.80) rotate(-90)" x="-4.34" y="0" font-size="58.3" fill="#231f20" stroke="#fff" stroke-width="0.9" textLength="73.58" lengthAdjust="spacingAndGlyphs">ice</text>
<text transform="translate(45.10 397.00) rotate(-90)" x="-2.05" y="0" font-size="58.3" fill="#231f20" stroke="#fff" stroke-width="0.9" textLength="123.15" lengthAdjust="spacingAndGlyphs">shelf</text>
<text transform="translate(45.10 254.30) rotate(-90)" x="-4.06" y="0" font-size="58.3" fill="#231f20" stroke="#fff" stroke-width="0.9" textLength="127.63" lengthAdjust="spacingAndGlyphs">mass</text>
<text transform="translate(114.90 605.40) rotate(-90)" x="-4.12" y="0" font-size="58.3" fill="#231f20" stroke="#fff" stroke-width="0.9" textLength="197.90" lengthAdjust="spacingAndGlyphs">balance</text>
<text transform="translate(114.90 388.20) rotate(-90)" x="-2.87" y="0" font-size="58.3" fill="#231f20" stroke="#fff" stroke-width="0.9" textLength="215.66" lengthAdjust="spacingAndGlyphs">anomaly</text>
<text transform="translate(114.90 155.70) rotate(-90)" x="-4.03" y="0" font-size="58.3" fill="#231f20" stroke="#fff" stroke-width="0.9" textLength="146.51" lengthAdjust="spacingAndGlyphs">(Gt/a)</text>
<path d="M382.19 18.93 A26.2 26.2 0 1 0 383.20 57.55 L374.64 50.19 A15.0 15.0 0 1 1 374.03 26.72 Z" fill="#231f20"/>
</svg></body></html>
